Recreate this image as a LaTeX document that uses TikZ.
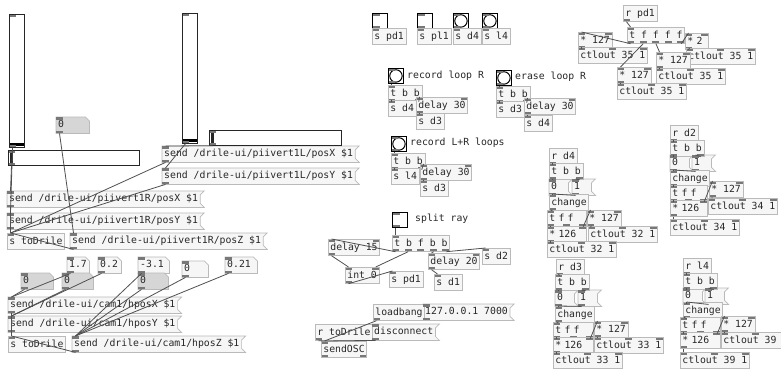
\documentclass[tikz,border=0pt]{standalone}
\usepackage{fontspec}
\newfontfamily\pdmono{DejaVu Sans Mono}
\usetikzlibrary{calc}
\pgfdeclarelayer{background}
\pgfsetlayers{background,main}

\definecolor{boxline}{RGB}{186,186,186}
\definecolor{boxfill}{RGB}{246,246,246}
\definecolor{portc}{RGB}{120,120,120}
\definecolor{wirec}{RGB}{80,80,80}
\definecolor{numgrey}{RGB}{214,214,214}
\definecolor{textc}{RGB}{40,40,40}

\newcommand{\pdfont}{\pdmono\fontsize{9.8}{11}\selectfont}

% inlets and outlets, spread along the top and bottom edges
\newcommand{\pdports}{%
  \ifnum\pdin>0
    \foreach \k in {1,...,\pdin}{%
      \pgfmathsetmacro\pf{(\k-1)/max(\pdin-1,1)}%
      \fill[portc] ([xshift=-7pt*\pf]$(path picture bounding box.north west)!\pf!(path picture bounding box.north east)$) rectangle ++(7pt,-2.5pt);}%
  \fi
  \ifnum\pdout>0
    \foreach \k in {1,...,\pdout}{%
      \pgfmathsetmacro\pf{(\k-1)/max(\pdout-1,1)}%
      \fill[portc] ([xshift=-7pt*\pf]$(path picture bounding box.south west)!\pf!(path picture bounding box.south east)$) rectangle ++(7pt,2.5pt);}%
  \fi}

\tikzset{
  pdin/.store in=\pdin, pdout/.store in=\pdout,
  pdin=1, pdout=1,
  pdbase/.style={font=\pdfont, text=textc, anchor=north west, inner xsep=2pt, inner ysep=0pt,
    minimum height=16pt, text height=7.6pt, text depth=2.2pt, align=left},
  obj/.style={pdbase, draw=boxline, fill=boxfill, line width=0.7pt, path picture={\pdports}},
  msg/.style={pdbase},
  numbox/.style={pdbase},
  bng/.style={draw=black, line width=0.9pt, fill=white, minimum size=15pt, inner sep=0pt, anchor=north west,
    path picture={\draw[black, line width=1pt] (path picture bounding box.center) circle (6.2pt); \pdports}},
  tgl/.style={draw=black, line width=1pt, fill=white, minimum size=15pt, inner sep=0pt, anchor=north west,
    path picture={\pdports}},
  vsl/.style={draw=black!85, line width=0.7pt, fill=white, minimum width=15pt, inner sep=0pt, anchor=north west,
    path picture={\fill[black] ([yshift=1.5pt]path picture bounding box.south west) rectangle ([yshift=4.5pt]path picture bounding box.south east); \pdports}},
  hsl/.style={draw=black!85, line width=0.7pt, fill=white, minimum height=15pt, inner sep=0pt, anchor=north west,
    path picture={\fill[black!85] ([xshift=1.5pt]path picture bounding box.south west) rectangle ([xshift=4.5pt]path picture bounding box.north west); \pdports}},
  lbl/.style={font=\pdfont, text=textc, anchor=west, inner sep=0pt},
  wire/.style={draw=wirec, line width=0.8pt},
}

\newcommand{\pdio}[1]{%
  \fill[portc] (#1.north west) rectangle ([xshift=7pt,yshift=-2.5pt]#1.north west);
  \fill[portc] (#1.south west) rectangle ([xshift=7pt,yshift=2.5pt]#1.south west);}

% message box with the flag on its right side
\newcommand{\pdmsg}[5][]{%
  \node[msg,#1] (#2) at (#3,#4) {#5};
  \begin{pgfonlayer}{background}
    \filldraw[draw=boxline, fill=boxfill, line width=0.7pt] (#2.north west) -- ([xshift=4pt]#2.north east)
      -- ([yshift=-4pt]#2.north east) -- ([yshift=4pt]#2.south east) -- ([xshift=4pt]#2.south east)
      -- (#2.south west) -- cycle;
  \end{pgfonlayer}
  \pdio{#2}}

% number box with the cut corner
\newcommand{\pdnum}[6][boxfill]{%
  \node[numbox, text width=#5pt] (#2) at (#3,#4) {#6};
  \begin{pgfonlayer}{background}
    \filldraw[draw=boxline, fill=#1, line width=0.7pt] (#2.north west) -- ([xshift=-4pt]#2.north east)
      -- ([yshift=-4pt]#2.north east) -- (#2.south east) -- (#2.south west) -- cycle;
  \end{pgfonlayer}
  \pdio{#2}}

% connection: outlet at fraction #2 of #1 to inlet at fraction #4 of #3
\newcommand{\conn}[4]{\draw[wire] ([xshift=3.5pt-7pt*#2]$(#1.south west)!#2!(#1.south east)$)
  -- ([xshift=3.5pt-7pt*#4]$(#3.north west)!#4!(#3.north east)$);}

\begin{document}
\begin{tikzpicture}[x=1pt,y=-1pt]
\begin{pgfonlayer}{background}
\fill[white] (0,0) rectangle (781,369);
\end{pgfonlayer}
\useasboundingbox (0,0) rectangle (781,369);

% piivert sliders
\node[vsl, minimum height=133pt] (vsl1) at (9,14) {};
\node[hsl, minimum width=131pt] (hsl1) at (8,150) {};
\node[vsl, minimum height=130pt] (vsl2) at (182,13) {};
\node[hsl, minimum width=132pt] (hsl2) at (209,130) {};
\pdnum[numgrey]{nzA}{56}{117}{29}{0}

\pdmsg{msgLX}{162}{146}{send /drile-ui/piivert1L/posX \$1}
\pdmsg{msgLY}{162}{168}{send /drile-ui/piivert1L/posY \$1}
\pdmsg{msgRX}{7}{191}{send /drile-ui/piivert1R/posX \$1}
\pdmsg{msgRY}{7}{213}{send /drile-ui/piivert1R/posY \$1}
\node[obj, pdout=0] (stoA) at (7,233) {s toDrile};
\pdmsg{msgRZ}{70}{233}{send /drile-ui/piivert1R/posZ \$1}

% camera position
\pdnum{n17}{67}{257}{18}{1.7}
\pdnum{n02}{98}{257}{19}{0.2}
\pdnum{n31}{138}{257}{27}{-3.1}
\pdnum{n00}{182}{261}{22}{0}
\pdnum{n21}{225}{257}{28}{0.21}
\pdnum[numgrey]{nzB}{21}{273}{28}{0}
\pdnum[numgrey]{nzC}{62}{273}{27}{0}
\pdnum[numgrey]{nzD}{138}{273}{26}{0}

\pdmsg{msgHX}{8}{297}{send /drile-ui/cam1/hposX \$1}
\pdmsg{msgHY}{8}{316}{send /drile-ui/cam1/hposY \$1}
\node[obj, pdout=0] (stoB) at (8,336) {s toDrile};
\pdmsg{msgHZ}{72}{336}{send /drile-ui/cam1/hposZ \$1}

% toggles and bangs
\node[tgl] (tglP) at (372,13) {};
\node[obj, pdout=0] (spdP) at (372,28) {s pd1};
\node[tgl] (tglL) at (417,13) {};
\node[obj, pdout=0] (splL) at (417,28) {s pl1};
\node[bng] (bngD) at (453,13) {};
\node[obj, pdout=0] (sdD) at (453,28) {s d4};
\node[bng] (bngL) at (482,13) {};
\node[obj, pdout=0] (slL) at (482,28) {s l4};

% loops
\node[bng] (bngA) at (388,68) {};
\node[lbl] (lblA) at (407,76) {record loop R};
\node[obj, pdout=2] (tbbA) at (388,85) {t b b};
\node[obj, pdout=0] (saA) at (388,100) {s d4};
\node[obj, pdin=2] (delA) at (416,97) {delay 30};
\node[obj, pdout=0] (sbA) at (416,113) {s d3};

\node[bng] (bngB) at (496,70) {};
\node[lbl] (lblB) at (515,77) {erase loop R};
\node[obj, pdout=2] (tbbB) at (496,86) {t b b};
\node[obj, pdout=0] (saB) at (496,101) {s d3};
\node[obj, pdin=2] (delB) at (524,98) {delay 30};
\node[obj, pdout=0] (sbB) at (524,115) {s d4};

\node[bng] (bngC) at (391,136) {};
\node[lbl] (lblC) at (410,143) {record L+R loops};
\node[obj, pdout=2] (tbbC) at (391,153) {t b b};
\node[obj, pdout=0] (saC) at (391,168) {s l4};
\node[obj, pdin=2] (delC) at (420,164) {delay 30};
\node[obj, pdout=0] (sbC) at (420,180) {s d3};

% split ray
\node[tgl] (tglS) at (392,212) {};
\node[lbl] (lblS) at (415,219) {split ray};
\node[obj, pdout=5] (tbfbb) at (392,235) {t b f b b};
\node[obj, pdin=2] (del15) at (328,239) {delay 15};
\node[obj, pdin=2] (int0) at (345,267) {int 0};
\node[obj, pdout=0] (spdS) at (389,271) {s pd1};
\node[obj, pdin=2] (del20) at (428,253) {delay 20};
\node[obj, pdout=0] (sd2) at (482,248) {s d2};
\node[obj, pdout=0] (sd1) at (434,274) {s d1};

% osc
\node[obj, pdin=0] (loadb) at (373,304) {loadbang};
\pdmsg{msgIP}{423}{304}{127.0.0.1 7000}
\node[obj, pdin=0] (rTo) at (315,324) {r toDrile};
\pdmsg{msgDis}{372}{324}{disconnect}
\node[obj, pdout=2] (sendosc) at (321,341) {sendOSC};

% ctlout 35
\node[obj, pdin=0] (rpd1) at (623,5) {r pd1};
\node[obj, pdout=5] (tffff) at (627,27) {t f f f f};
\node[obj, pdin=2] (mulA) at (578,32) {* 127};
\node[obj, pdin=3, pdout=0] (ctlA) at (578,47) {ctlout 35 1};
\node[obj, pdin=2, text width=19pt] (mulT) at (685,33) {* 2};
\node[obj, pdin=3, pdout=0] (ctlT) at (686,48) {ctlout 35 1};
\node[obj, pdin=2] (mulB) at (656,52) {* 127};
\node[obj, pdin=3, pdout=0] (ctlB) at (656,68) {ctlout 35 1};
\node[obj, pdin=2] (mulC) at (617,67) {* 127};
\node[obj, pdin=3, pdout=0] (ctlC) at (617,83) {ctlout 35 1};

% d4
\node[obj, pdin=0] (rD4) at (549,148) {r d4};
\node[obj, pdout=2] (tbbD4) at (549,163) {t b b};
\pdmsg[text width=15pt]{m0D4}{549}{179}{0}
\pdmsg[text width=15pt]{m1D4}{572}{179}{1}
\node[obj] (chD4) at (549,194) {change};
\node[obj, pdout=3, text width=35pt] (tffD4) at (547,210) {t f f};
\node[obj, pdin=2] (mulD4) at (587,210) {* 127};
\node[obj, pdin=2, text width=35pt] (mucD4) at (547,226) {* 126};
\node[obj, pdin=3, pdout=0] (ctaD4) at (588,226) {ctlout 32 1};
\node[obj, pdin=3, pdout=0] (ctbD4) at (547,241) {ctlout 32 1};

% d2
\node[obj, pdin=0] (rD2) at (670,125) {r d2};
\node[obj, pdout=2] (tbbD2) at (670,140) {t b b};
\pdmsg[text width=15pt]{m0D2}{670}{155}{0}
\pdmsg[text width=15pt]{m1D2}{692}{155}{1}
\node[obj] (chD2) at (670,170) {change};
\node[obj, pdout=3, text width=33pt] (tffD2) at (670,185) {t f f};
\node[obj, pdin=2] (mulD2) at (709,181) {* 127};
\node[obj, pdin=2, text width=33pt] (mucD2) at (670,200) {* 126};
\node[obj, pdin=3, pdout=0] (ctaD2) at (708,198) {ctlout 34 1};
\node[obj, pdin=3, pdout=0] (ctbD2) at (670,219) {ctlout 34 1};

% d3
\node[obj, pdin=0] (rD3) at (556,259) {r d3};
\node[obj, pdout=2] (tbbD3) at (555,274) {t b b};
\pdmsg[text width=15pt]{m0D3}{555}{290}{0}
\pdmsg[text width=15pt]{m1D3}{578}{290}{1}
\node[obj] (chD3) at (555,306) {change};
\node[obj, pdout=3, text width=36pt] (tffD3) at (553,322) {t f f};
\node[obj, pdin=2] (mulD3) at (594,321) {* 127};
\node[obj, pdin=2, text width=36pt] (mucD3) at (553,337) {* 126};
\node[obj, pdin=3, pdout=0] (ctaD3) at (594,337) {ctlout 33 1};
\node[obj, pdin=3, pdout=0] (ctbD3) at (553,352) {ctlout 33 1};

% l4
\node[obj, pdin=0] (rL4) at (683,258) {r l4};
\node[obj, pdout=2] (tbbL4) at (683,273) {t b b};
\pdmsg[text width=15pt]{m0L4}{683}{288}{0}
\pdmsg[text width=15pt]{m1L4}{705}{288}{1}
\node[obj] (chL4) at (683,302) {change};
\node[obj, pdout=3, text width=36pt] (tffL4) at (680,317) {t f f};
\node[obj, pdin=2] (mulL4) at (721,316) {* 127};
\node[obj, pdin=2, text width=36pt] (mucL4) at (680,332) {* 126};
\node[obj, pdin=3, pdout=0] (ctaL4) at (721,332) {ctlout 39 1};
\node[obj, pdin=3, pdout=0] (ctbL4) at (680,352) {ctlout 39 1};

% wires
\conn{hsl1}{0}{msgRX}{0}
\conn{vsl1}{0}{msgRY}{0}
\conn{nzA}{0}{msgRZ}{0}
\conn{vsl2}{0}{msgLY}{0}
\conn{hsl2}{0}{msgLX}{0}
\foreach \m in {msgLX,msgLY,msgRX,msgRY,msgRZ}{\conn{\m}{0}{stoA}{0}}

\conn{nzB}{0}{msgHX}{0}
\conn{n17}{0}{msgHX}{0}
\conn{nzC}{0}{msgHY}{0}
\conn{n02}{0}{msgHY}{0}
\foreach \m in {n31,nzD,n00,n21}{\conn{\m}{0}{msgHZ}{0}}
\foreach \m in {msgHX,msgHY,msgHZ}{\conn{\m}{0}{stoB}{0}}

\foreach \x in {A,B,C}{
  \conn{bng\x}{0}{tbb\x}{0}
  \conn{tbb\x}{0}{sa\x}{0}
  \conn{tbb\x}{1}{del\x}{0}
  \conn{del\x}{0}{sb\x}{0}
}

\conn{tglS}{0}{tbfbb}{0}
\conn{tbfbb}{0}{del15}{0}
\conn{tbfbb}{.25}{int0}{1}
\conn{del15}{0}{int0}{0}
\conn{int0}{0}{spdS}{0}
\conn{tbfbb}{.75}{del20}{0}
\conn{tbfbb}{1}{sd2}{0}
\conn{del20}{0}{sd1}{0}

\conn{loadb}{0}{sendosc}{0}
\conn{rTo}{0}{sendosc}{0}
\conn{msgDis}{0}{sendosc}{0}

\conn{rpd1}{0}{tffff}{0}
\conn{tffff}{0}{mulA}{0}
\conn{tffff}{.25}{mulC}{0}
\conn{tffff}{.5}{mulB}{0}
\conn{tffff}{1}{mulT}{0}
\conn{mulA}{0}{ctlA}{0}
\conn{mulT}{0}{ctlT}{0}
\conn{mulB}{0}{ctlB}{0}
\conn{mulC}{0}{ctlC}{0}

\foreach \b in {D4,D2,D3,L4}{
  \conn{r\b}{0}{tbb\b}{0}
  \conn{tbb\b}{0}{m0\b}{0}
  \conn{tbb\b}{1}{m1\b}{0}
  \conn{m0\b}{0}{ch\b}{0}
  \conn{m1\b}{0}{ch\b}{0}
  \conn{ch\b}{0}{tff\b}{0}
  \conn{tff\b}{0}{muc\b}{0}
  \conn{tff\b}{1}{mul\b}{0}
  \conn{mul\b}{0}{cta\b}{0}
  \conn{muc\b}{0}{ctb\b}{0}
}
\end{tikzpicture}
\end{document}
